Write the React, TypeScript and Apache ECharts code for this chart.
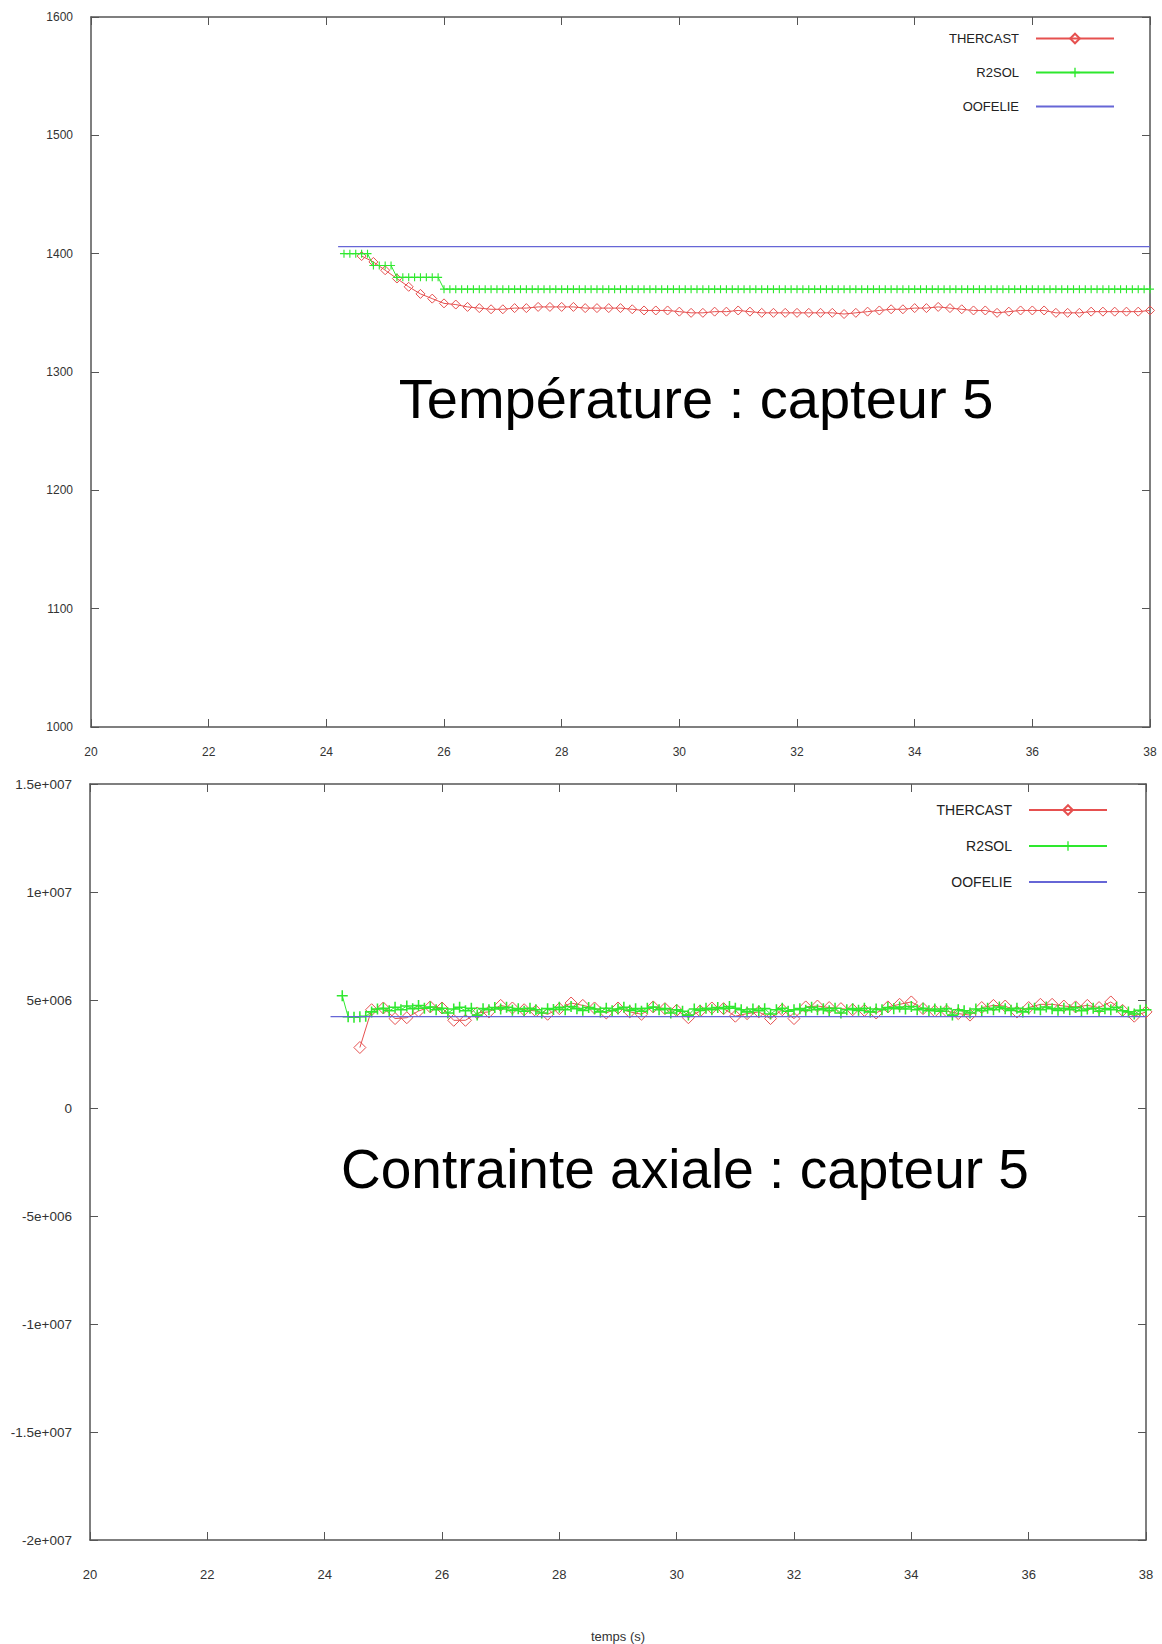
import React, { useEffect, useRef } from "react";
import * as echarts from "echarts";

// ---- time samples (s) ----
const T_R2SOL = [
  24.3, 24.4, 24.5, 24.6, 24.7, 24.8, 24.9,
  25.0, 25.1, 25.2, 25.3, 25.4, 25.5, 25.6, 25.7, 25.8, 25.9,
  26.0, 26.1, 26.2, 26.3, 26.4, 26.5, 26.6, 26.7, 26.8, 26.9,
  27.0, 27.1, 27.2, 27.3, 27.4, 27.5, 27.6, 27.7, 27.8, 27.9,
  28.0, 28.1, 28.2, 28.3, 28.4, 28.5, 28.6, 28.7, 28.8, 28.9,
  29.0, 29.1, 29.2, 29.3, 29.4, 29.5, 29.6, 29.7, 29.8, 29.9,
  30.0, 30.1, 30.2, 30.3, 30.4, 30.5, 30.6, 30.7, 30.8, 30.9,
  31.0, 31.1, 31.2, 31.3, 31.4, 31.5, 31.6, 31.7, 31.8, 31.9,
  32.0, 32.1, 32.2, 32.3, 32.4, 32.5, 32.6, 32.7, 32.8, 32.9,
  33.0, 33.1, 33.2, 33.3, 33.4, 33.5, 33.6, 33.7, 33.8, 33.9,
  34.0, 34.1, 34.2, 34.3, 34.4, 34.5, 34.6, 34.7, 34.8, 34.9,
  35.0, 35.1, 35.2, 35.3, 35.4, 35.5, 35.6, 35.7, 35.8, 35.9,
  36.0, 36.1, 36.2, 36.3, 36.4, 36.5, 36.6, 36.7, 36.8, 36.9,
  37.0, 37.1, 37.2, 37.3, 37.4, 37.5, 37.6, 37.7, 37.8, 37.9,
  38.0,
];

const T_THERCAST = [
  24.6, 24.8, 25.0, 25.2, 25.4, 25.6, 25.8,
  26.0, 26.2, 26.4, 26.6, 26.8,
  27.0, 27.2, 27.4, 27.6, 27.8,
  28.0, 28.2, 28.4, 28.6, 28.8,
  29.0, 29.2, 29.4, 29.6, 29.8,
  30.0, 30.2, 30.4, 30.6, 30.8,
  31.0, 31.2, 31.4, 31.6, 31.8,
  32.0, 32.2, 32.4, 32.6, 32.8,
  33.0, 33.2, 33.4, 33.6, 33.8,
  34.0, 34.2, 34.4, 34.6, 34.8,
  35.0, 35.2, 35.4, 35.6, 35.8,
  36.0, 36.2, 36.4, 36.6, 36.8,
  37.0, 37.2, 37.4, 37.6, 37.8,
  38.0,
];

// ---- Température : capteur 5 ----
const TEMP_THERCAST = [
  1398, 1393, 1386, 1379, 1372, 1366, 1362,
  1358, 1357, 1355, 1354, 1353,
  1353, 1354, 1354, 1355, 1355,
  1355, 1355, 1354, 1354, 1354,
  1354, 1353, 1352, 1352, 1352,
  1351, 1350, 1350, 1351, 1351,
  1352, 1351, 1350, 1350, 1350,
  1350, 1350, 1350, 1350, 1349,
  1350, 1351, 1352, 1353, 1353,
  1354, 1354, 1355, 1354, 1353,
  1352, 1352, 1350, 1351, 1352,
  1352, 1352, 1350, 1350, 1350,
  1351, 1351, 1351, 1351, 1351,
  1352,
];

const TEMP_R2SOL = [
  1400, 1400, 1400, 1400, 1400, 1390, 1390,
  1390, 1390, 1380, 1380, 1380, 1380, 1380, 1380, 1380, 1380,
  1370, 1370, 1370, 1370, 1370, 1370, 1370, 1370, 1370, 1370,
  1370, 1370, 1370, 1370, 1370, 1370, 1370, 1370, 1370, 1370,
  1370, 1370, 1370, 1370, 1370, 1370, 1370, 1370, 1370, 1370,
  1370, 1370, 1370, 1370, 1370, 1370, 1370, 1370, 1370, 1370,
  1370, 1370, 1370, 1370, 1370, 1370, 1370, 1370, 1370, 1370,
  1370, 1370, 1370, 1370, 1370, 1370, 1370, 1370, 1370, 1370,
  1370, 1370, 1370, 1370, 1370, 1370, 1370, 1370, 1370, 1370,
  1370, 1370, 1370, 1370, 1370, 1370, 1370, 1370, 1370, 1370,
  1370, 1370, 1370, 1370, 1370, 1370, 1370, 1370, 1370, 1370,
  1370, 1370, 1370, 1370, 1370, 1370, 1370, 1370, 1370, 1370,
  1370, 1370, 1370, 1370, 1370, 1370, 1370, 1370, 1370, 1370,
  1370, 1370, 1370, 1370, 1370, 1370, 1370, 1370, 1370, 1370,
  1370,
];

const TEMP_OOFELIE_T = [24.2, 38.0];
const TEMP_OOFELIE = [1406, 1406];

// ---- Contrainte axiale : capteur 5 (values in 1e6 Pa) ----
const STRESS_UNIT = 1e6;

const STRESS_THERCAST = [
  2.80, 4.55, 4.63, 4.14, 4.18, 4.49, 4.68,
  4.63, 4.06, 4.06, 4.40, 4.45,
  4.75, 4.63, 4.55, 4.49, 4.34,
  4.60, 4.86, 4.75, 4.63, 4.40,
  4.63, 4.45, 4.34, 4.68, 4.60,
  4.52, 4.18, 4.49, 4.63, 4.60,
  4.25, 4.37, 4.45, 4.14, 4.55,
  4.14, 4.68, 4.72, 4.65, 4.60,
  4.55, 4.52, 4.40, 4.68, 4.80,
  4.91, 4.60, 4.49, 4.49, 4.37,
  4.30, 4.65, 4.75, 4.72, 4.45,
  4.65, 4.80, 4.80, 4.72, 4.68,
  4.75, 4.65, 4.91, 4.52, 4.25,
  4.45,
];

const STRESS_R2SOL = [
  5.20, 4.22, 4.20, 4.22, 4.25, 4.45, 4.58,
  4.62, 4.50, 4.66, 4.55, 4.72, 4.60, 4.75, 4.62, 4.68, 4.55,
  4.62, 4.40, 4.58, 4.66, 4.50, 4.62, 4.30, 4.60, 4.55, 4.65,
  4.58, 4.66, 4.52, 4.60, 4.48, 4.62, 4.55, 4.40, 4.60, 4.56,
  4.66, 4.55, 4.70, 4.60, 4.52, 4.65, 4.58, 4.45, 4.62, 4.50,
  4.58, 4.66, 4.52, 4.60, 4.48, 4.62, 4.68, 4.55, 4.60, 4.40,
  4.55, 4.48, 4.30, 4.58, 4.52, 4.62, 4.55, 4.65, 4.60, 4.70,
  4.62, 4.55, 4.45, 4.58, 4.50, 4.60, 4.35, 4.55, 4.62, 4.48,
  4.55, 4.60, 4.52, 4.66, 4.55, 4.60, 4.50, 4.62, 4.40, 4.55,
  4.60, 4.52, 4.62, 4.45, 4.58, 4.55, 4.65, 4.60, 4.68, 4.58,
  4.70, 4.55, 4.62, 4.50, 4.58, 4.48, 4.60, 4.30, 4.55, 4.50,
  4.40, 4.58, 4.50, 4.62, 4.55, 4.68, 4.60, 4.52, 4.62, 4.45,
  4.58, 4.62, 4.55, 4.68, 4.60, 4.52, 4.62, 4.55, 4.65, 4.50,
  4.58, 4.62, 4.48, 4.60, 4.55, 4.66, 4.50, 4.45, 4.35, 4.52,
  4.55,
];

const STRESS_OOFELIE_T = [24.1, 38.0];
const STRESS_OOFELIE = [4.23, 4.23];

// ---- axes / ticks ----
const X_MIN = 20;
const X_MAX = 38;
const X_STEP = 2;
const TEMP_MIN = 1000;
const TEMP_MAX = 1600;
const TEMP_STEP = 100;
const STRESS_TICK_VALUES = [-2e7, -1.5e7, -1e7, -5e6, 0, 5e6, 1e7, 1.5e7];
const STRESS_TICK_LABELS = ["-2e+007", "-1.5e+007", "-1e+007", "-5e+006", "0", "5e+006", "1e+007", "1.5e+007"];

const SERIES_NAMES = ["THERCAST", "R2SOL", "OOFELIE"];
const TITLE_TOP = "Température : capteur 5";
const TITLE_BOTTOM = "Contrainte axiale : capteur 5";
const X_NAME = "temps (s)";

const RED = "#e6504f";
const GREEN = "#2ee82e";
const BLUE = "#6666d6";
const AXIS = "#555555";
const FONT = "'Liberation Sans', Arial, sans-serif";
const NARROW = "'Liberation Sans Narrow', 'Liberation Sans', Arial, sans-serif";
const PLUS = "path://M4.3,0 H5.7 V4.3 H10 V5.7 H5.7 V10 H4.3 V5.7 H0 V4.3 H4.3 Z";

const zip = (t: number[], v: number[], k = 1) => t.map((x, i) => [x, v[i] * k]);

export default function App() {
  const ref = useRef<HTMLDivElement>(null);

  useEffect(() => {
    document.body.style.margin = "0";
    if (!ref.current) return;
    const chart = echarts.init(ref.current, undefined, { renderer: "svg" });

    const xBottom = (gridIndex: number, fontSize: number, margin: number, extra: any = {}) => ({
      type: "value",
      gridIndex,
      min: X_MIN,
      max: X_MAX,
      interval: X_STEP,
      position: "bottom",
      axisLine: { show: true, onZero: false, lineStyle: { color: AXIS, width: 1.5 } },
      axisTick: { show: true, inside: true, length: 8, lineStyle: { color: AXIS } },
      axisLabel: { color: "#333", fontSize, margin, fontFamily: NARROW, formatter: (v: number) => String(v) },
      splitLine: { show: false },
      ...extra,
    });
    const xTop = (gridIndex: number) => ({
      type: "value",
      gridIndex,
      min: X_MIN,
      max: X_MAX,
      interval: X_STEP,
      position: "top",
      axisLine: { show: true, onZero: false, lineStyle: { color: AXIS, width: 1.5 } },
      axisTick: { show: true, inside: true, length: 8, lineStyle: { color: AXIS } },
      axisLabel: { show: false },
      splitLine: { show: false },
    });
    const yRight = (gridIndex: number, min: number, max: number, interval: number) => ({
      type: "value",
      gridIndex,
      min,
      max,
      interval,
      position: "right",
      axisLine: { show: true, onZero: false, lineStyle: { color: AXIS, width: 1.5 } },
      axisTick: { show: true, inside: true, length: 8, lineStyle: { color: AXIS } },
      axisLabel: { show: false },
      splitLine: { show: false },
    });

    const legend = (right: number, top: number, gap: number, fontSize: number) => ({
      data: [
        { name: SERIES_NAMES[0] },
        { name: SERIES_NAMES[1] },
        { name: SERIES_NAMES[2], itemStyle: { color: "rgba(0,0,0,0)", borderWidth: 0, opacity: 0 } },
      ],
      orient: "vertical",
      align: "right",
      right,
      top,
      itemWidth: 78,
      itemHeight: 12,
      itemGap: gap,
      padding: 0,
      selectedMode: false,
      textStyle: { fontSize, color: "#222", fontFamily: FONT, padding: [0, 12, 0, 0] },
    });

    const thercast = (xi: number, yi: number, data: any, size: number) => ({
      name: "THERCAST",
      type: "line",
      xAxisIndex: xi,
      yAxisIndex: yi,
      data,
      symbol: "diamond",
      symbolSize: size,
      itemStyle: { color: "rgba(255,255,255,0)", borderColor: RED, borderWidth: 1 },
      lineStyle: { color: RED, width: 1 },
      z: 2,
    });
    const r2sol = (xi: number, yi: number, data: any, size: number) => ({
      name: "R2SOL",
      type: "line",
      xAxisIndex: xi,
      yAxisIndex: yi,
      data,
      symbol: PLUS,
      symbolSize: size,
      itemStyle: { color: GREEN },
      lineStyle: { color: GREEN, width: 1 },
      z: 3,
    });
    const oofelie = (xi: number, yi: number, data: any) => ({
      name: "OOFELIE",
      type: "line",
      xAxisIndex: xi,
      yAxisIndex: yi,
      data,
      showSymbol: false,
      symbol: "none",
      itemStyle: { color: BLUE },
      lineStyle: { color: BLUE, width: 1.2 },
      z: 4,
    });

    const option: any = {
      animation: false,
      backgroundColor: "#ffffff",
      grid: [
        { left: 91, top: 17, width: 1059, height: 710 },
        { left: 90, top: 784, width: 1056, height: 760 },
      ],
      legend: [legend(47, 32, 21, 13), legend(54, 803, 22, 14)],
      xAxis: [
        xBottom(0, 12, 19),
        xTop(0),
        xBottom(1, 13, 28, {
          name: X_NAME,
          nameLocation: "middle",
          nameGap: 90,
          nameTextStyle: { color: "#333", fontSize: 13, fontFamily: NARROW },
        }),
        xTop(1),
      ],
      yAxis: [
        {
          type: "value",
          gridIndex: 0,
          min: TEMP_MIN,
          max: TEMP_MAX,
          interval: TEMP_STEP,
          position: "left",
          axisLine: { show: true, onZero: false, lineStyle: { color: AXIS, width: 1.5 } },
          axisTick: { show: true, inside: true, length: 8, lineStyle: { color: AXIS } },
          axisLabel: { color: "#333", fontSize: 12, margin: 18, fontFamily: FONT, formatter: (v: number) => String(v) },
          splitLine: { show: false },
        },
        yRight(0, TEMP_MIN, TEMP_MAX, TEMP_STEP),
        {
          type: "value",
          gridIndex: 1,
          min: STRESS_TICK_VALUES[0],
          max: STRESS_TICK_VALUES[STRESS_TICK_VALUES.length - 1],
          interval: 5e6,
          position: "left",
          axisLine: { show: true, onZero: false, lineStyle: { color: AXIS, width: 1.5 } },
          axisTick: { show: true, inside: true, length: 8, lineStyle: { color: AXIS } },
          axisLabel: {
            color: "#333",
            fontSize: 13.5,
            margin: 18,
            fontFamily: FONT,
            formatter: (v: number) => {
              const i = STRESS_TICK_VALUES.findIndex((t) => Math.abs(t - v) < 1);
              return i >= 0 ? STRESS_TICK_LABELS[i] : "";
            },
          },
          splitLine: { show: false },
        },
        yRight(1, STRESS_TICK_VALUES[0], STRESS_TICK_VALUES[STRESS_TICK_VALUES.length - 1], 5e6),
      ],
      graphic: [
        {
          type: "text",
          x: 696,
          y: 398,
          style: {
            text: TITLE_TOP,
            fontSize: 56,
            fontFamily: FONT,
            fill: "#000",
            align: "center",
            verticalAlign: "middle",
          },
        },
        {
          type: "text",
          x: 685,
          y: 1169,
          style: {
            text: TITLE_BOTTOM,
            fontSize: 55,
            fontFamily: FONT,
            fill: "#000",
            align: "center",
            verticalAlign: "middle",
          },
        },
      ],
      series: [
        thercast(0, 0, zip(T_THERCAST, TEMP_THERCAST), 9),
        r2sol(0, 0, zip(T_R2SOL, TEMP_R2SOL), 8),
        oofelie(0, 0, zip(TEMP_OOFELIE_T, TEMP_OOFELIE)),
        thercast(2, 2, zip(T_THERCAST, STRESS_THERCAST, STRESS_UNIT), 12),
        r2sol(2, 2, zip(T_R2SOL, STRESS_R2SOL, STRESS_UNIT), 11),
        oofelie(2, 2, zip(STRESS_OOFELIE_T, STRESS_OOFELIE, STRESS_UNIT)),
      ],
    };

    chart.setOption(option);
    return () => chart.dispose();
  }, []);

  return <div ref={ref} style={{ width: 1162, height: 1644 }} />;
}
